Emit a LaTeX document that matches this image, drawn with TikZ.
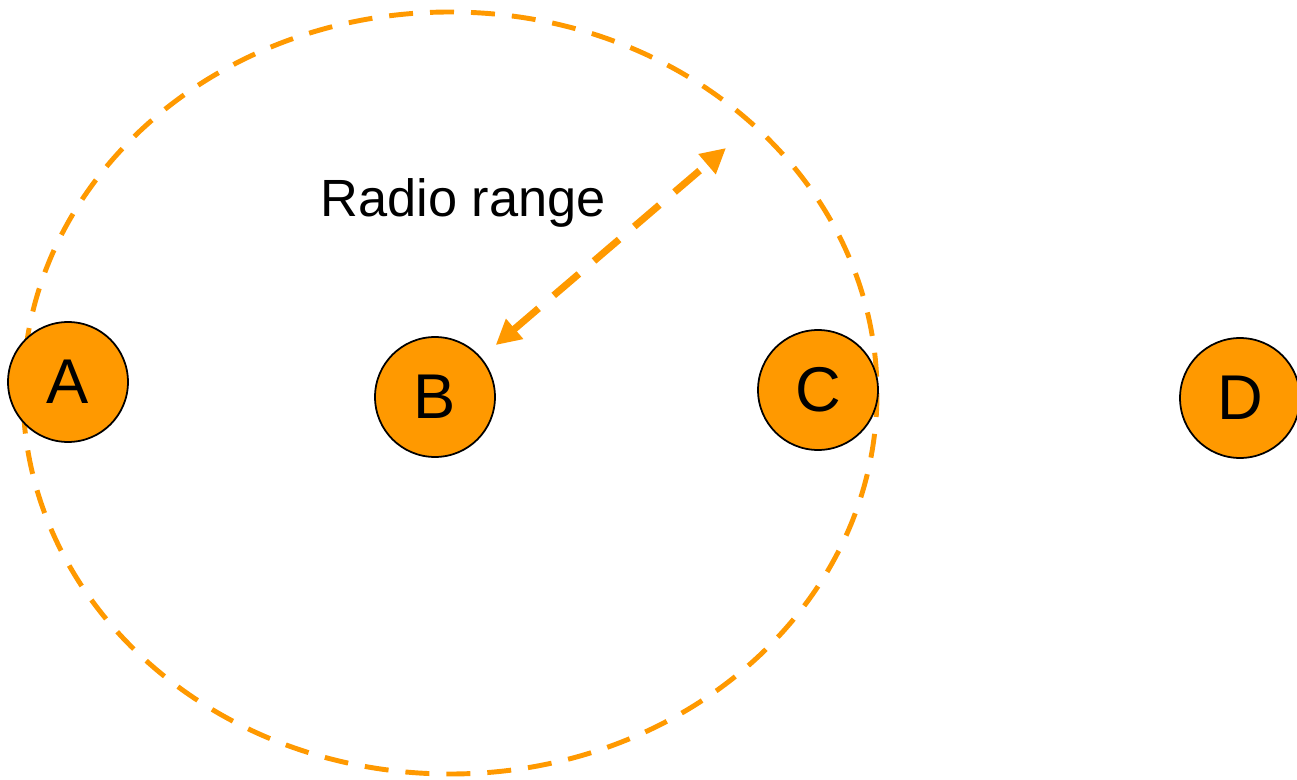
\documentclass[tikz,border=0pt]{standalone}
\usepackage{fontspec}
\setmainfont{Liberation Sans}
\usepackage{tikz}
\usetikzlibrary{arrows.meta,positioning}
\definecolor{radioorange}{HTML}{FF9900}

\begin{document}
\begin{tikzpicture}[
x=0.02cm, y=-0.02cm,
station/.style={draw, circle, line width=1pt, fill=radioorange, minimum size=2.4cm, inner sep=0pt, font=\fontsize{36}{40}\selectfont},
rangeline/.style={draw=radioorange, line width=2.8pt, dash pattern=on 0.48cm off 0.34cm},
rangearrow/.style={{Triangle[length=0.5cm, width=0.5cm]}-{Triangle[length=0.5cm, width=0.5cm]}, draw=radioorange, line width=4pt, dash pattern=on 0.66cm off 0.4cm}
]
\useasboundingbox (0,0) rectangle (1297,780);
\draw[rangeline] (450,393) ellipse [x radius=427, y radius=381];
\node[station] (A) at (68,382) {A};
\node[station] (B) at (435,397) {B};
\node[station] (C) at (818,390) {C};
\node[station] (D) at (1240,398) {D};
\coordinate (reach) at (726,148);
\draw[rangearrow, shorten <=0.38cm] (B) -- (reach);
\node[anchor=base, font=\fontsize{29.8}{34}\selectfont] (label) at (463,217) {Radio range};
\end{tikzpicture}
\end{document}
